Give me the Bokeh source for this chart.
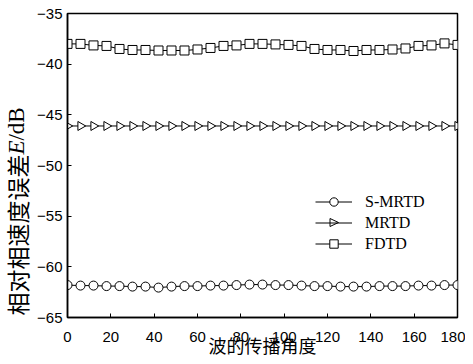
import math
from bokeh.plotting import figure
from bokeh.layouts import row
from bokeh.models import Legend, LegendItem, FixedTicker, Label, PolyAnnotation
from bokeh.embed import file_html
from bokeh.resources import INLINE

angles = list(range(0, 181, 6))
smrtd = [-61.8, -61.85, -61.85, -61.9, -61.9, -61.95, -61.95, -62.05, -61.95, -61.9,
         -61.9, -61.85, -61.85, -61.8, -61.75, -61.75, -61.8, -61.8, -61.85, -61.9,
         -61.9, -61.95, -61.95, -61.95, -61.9, -61.9, -61.9, -61.85, -61.85, -61.8, -61.8]
mrtd = [-46.1] * 31
fdtd = [-38.0, -38.0, -38.15, -38.2, -38.5, -38.6, -38.6, -38.65, -38.65, -38.65,
        -38.55, -38.4, -38.2, -38.15, -38.0, -38.0, -38.05, -38.1, -38.2, -38.5,
        -38.6, -38.6, -38.7, -38.6, -38.6, -38.55, -38.45, -38.2, -38.15, -37.95, -38.1]
x_ticks = [0, 20, 40, 60, 80, 100, 120, 140, 160, 180]
y_ticks = [-65, -60, -55, -50, -45, -40, -35]
series_names = ["S-MRTD", "MRTD", "FDTD"]
x_title = "波的传播角度"
y_title_parts = ["相对相速度误差", "E", "/dB"]

H = 361
LEFT_W = 34
FRAME_BOTTOM = 317

# narrow strip holding the y-axis title (mixed fonts)
ylab = figure(width=LEFT_W, height=H, output_backend="svg", toolbar_location=None,
              x_range=(0, 1), y_range=(0, 1), min_border=0)
ylab.axis.visible = False
ylab.grid.visible = False
ylab.outline_line_color = None
ylab.background_fill_color = "white"
ylab.border_fill_color = "white"
lab_x = 16
ylab.add_layout(Label(x=lab_x, y=82.4, x_units="screen", y_units="screen", angle=math.pi / 2,
                      text=y_title_parts[0], text_font="Noto Sans CJK SC", text_font_size="23px",
                      text_align="center", text_baseline="middle", text_color="black"))
ylab.add_layout(Label(x=lab_x, y=169.9, x_units="screen", y_units="screen", angle=math.pi / 2,
                      text=y_title_parts[1], text_font="Liberation Serif", text_font_size="23px",
                      text_font_style="italic",
                      text_align="center", text_baseline="middle", text_color="black"))
ylab.add_layout(Label(x=lab_x, y=193.5, x_units="screen", y_units="screen", angle=math.pi / 2,
                      text=y_title_parts[2], text_font="Liberation Serif", text_font_size="23px",
                      text_align="center", text_baseline="middle", text_color="black"))

p = figure(width=465 - LEFT_W, height=H, output_backend="svg", toolbar_location=None,
           x_range=(0, 180), y_range=(-65, -35),
           min_border_left=67 - LEFT_W, min_border_right=8, min_border_top=13,
           min_border_bottom=H - FRAME_BOTTOM)
p.background_fill_color = "white"
p.border_fill_color = "white"
p.grid.visible = False
p.outline_line_color = "black"
p.outline_line_width = 1.5

for ax in (p.xaxis[0], p.yaxis[0]):
    ax.major_tick_in = 4
    ax.major_tick_out = 0
    ax.minor_tick_in = 0
    ax.minor_tick_out = 0
    ax.axis_line_color = "black"
    ax.axis_line_width = 1.5
    ax.major_tick_line_color = "black"
    ax.major_label_text_font = "Liberation Sans"
    ax.major_label_text_font_size = "15px"
    ax.major_label_text_color = "black"

p.xaxis.ticker = FixedTicker(ticks=x_ticks)
p.yaxis.ticker = FixedTicker(ticks=y_ticks)
p.xaxis.axis_label = x_title
p.xaxis.axis_label_text_font = "Noto Sans CJK SC"
p.xaxis.axis_label_text_font_size = "18px"
p.xaxis.axis_label_text_font_style = "normal"
p.xaxis.axis_label_text_color = "black"
p.xaxis.major_label_standoff = 14
p.xaxis.axis_label_standoff = -13
p.yaxis.major_label_standoff = 5

l1 = p.line(angles, smrtd, line_color="black", line_width=1)
m1 = p.scatter(angles, smrtd, marker="circle", size=9, fill_color="white",
               line_color="black", line_width=1)
l2 = p.line(angles, mrtd, line_color="black", line_width=1)
m2 = p.scatter(angles, mrtd, marker="triangle", size=9, angle=-math.pi / 2,
               fill_color="white", line_color="black", line_width=1)
l3 = p.line(angles, fdtd, line_color="black", line_width=1)
m3 = p.scatter(angles, fdtd, marker="square", size=9, fill_color="white",
               line_color="black", line_width=1)

legend = Legend(items=[LegendItem(label=series_names[0], renderers=[l1, m1]),
                       LegendItem(label=series_names[1], renderers=[l2]),
                       LegendItem(label=series_names[2], renderers=[l3, m3])],
                location=(248, 63))
legend.padding = 0
legend.margin = 0
legend.spacing = 0
legend.glyph_width = 37
legend.glyph_height = 21
legend.label_height = 21
legend.label_standoff = 13
legend.label_text_font = "Liberation Serif"
legend.label_text_font_size = "16px"
legend.label_text_color = "black"
legend.border_line_alpha = 0
legend.background_fill_alpha = 0
p.add_layout(legend, "center")

# right-pointing triangle symbol for the MRTD legend entry
p.add_layout(PolyAnnotation(xs=[262.5, 262.5, 271.0], ys=[99.0, 91.0, 95.0],
                            xs_units="screen", ys_units="screen",
                            fill_color="white", fill_alpha=1.0,
                            line_color="black", line_width=1, line_alpha=1.0))

layout = row(ylab, p, spacing=0)
open("out.html", "w").write(file_html(layout, INLINE))
